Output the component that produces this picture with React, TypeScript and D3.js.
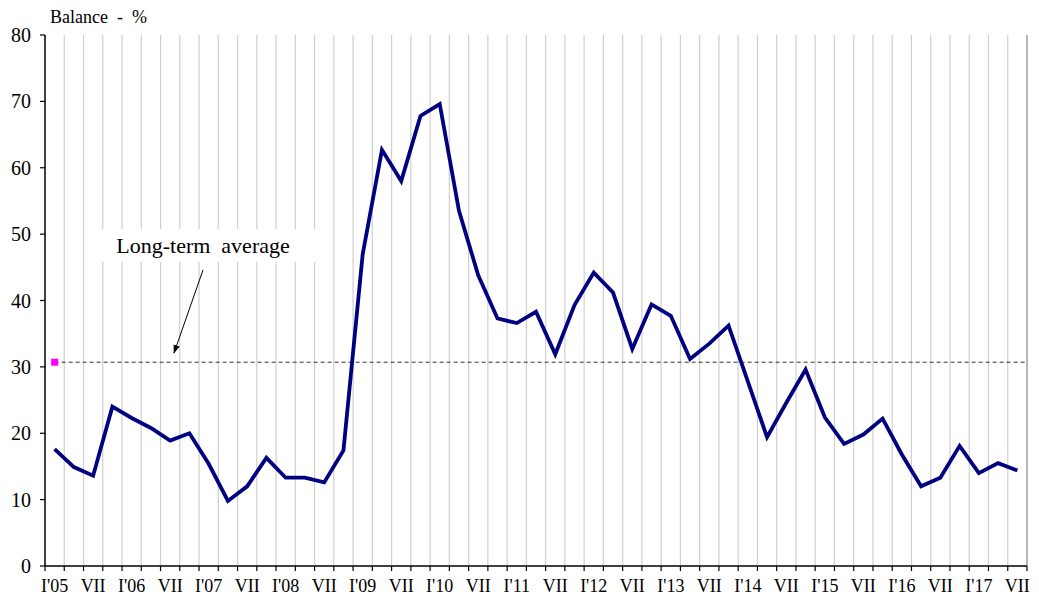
import React from "react";
import * as d3 from "d3";

const years = ["05", "06", "07", "08", "09", "10", "11", "12", "13", "14", "15", "16", "17"];
const quarters = ["I", "IV", "VII", "X"];
const categories: string[] = years.flatMap((y) => quarters.map((q) => `${q}'${y}`)).slice(0, 51);

const balance = [
  17.6, 14.9, 13.6, 24.0,
  22.3, 20.8, 18.9, 20.0,
  15.4, 9.8, 12.0, 16.3,
  13.3, 13.3, 12.6, 17.4,
  47.0, 62.7, 58.0, 67.8,
  69.6, 53.5, 43.8, 37.3,
  36.6, 38.3, 31.9, 39.3,
  44.2, 41.2, 32.7, 39.4,
  37.7, 31.2, 33.5, 36.2,
  27.8, 19.4, 24.6, 29.6,
  22.4, 18.4, 19.8, 22.2,
  16.8, 12.0, 13.3, 18.1,
  14.0, 15.5, 14.4,
];

const longTermAverage = 30.7;

const tickLabels = [
  "I'05", "VII", "I'06", "VII", "I'07", "VII", "I'08", "VII", "I'09", "VII",
  "I'10", "VII", "I'11", "VII", "I'12", "VII", "I'13", "VII", "I'14", "VII",
  "I'15", "VII", "I'16", "VII", "I'17", "VII",
];

const yTicks = [0, 10, 20, 30, 40, 50, 60, 70, 80];

export default function App() {
  const W = 1039;
  const H = 596;
  const left = 45;
  const right = 1027;
  const top = 35;
  const bottom = 566;
  const font = "'Liberation Serif', 'Times New Roman', serif";

  const x = d3.scaleBand<string>().domain(categories).range([left, right]).padding(0);
  const bw = x.bandwidth();
  const cx = (i: number) => (x(categories[i]) as number) + bw / 2;
  const y = d3.scaleLinear().domain([0, 80]).range([bottom, top]);

  const line = d3
    .line<number>()
    .x((_, i) => cx(i))
    .y((d) => y(d));

  const boundaries = d3.range(categories.length + 1).map((i) => left + i * bw);
  const avgY = y(longTermAverage);

  return (
    <svg width={W} height={H} style={{ position: "absolute", left: 0, top: 0, background: "#fff" }}>
      <defs>
        <marker id="arr" viewBox="0 0 10 10" refX="9" refY="5" markerWidth="9" markerHeight="9" orient="auto">
          <path d="M0,1.5 L10,5 L0,8.5 Z" fill="#000" />
        </marker>
      </defs>
      <rect x={0} y={0} width={W} height={H} fill="#fff" />
      {boundaries.slice(1).map((bx, i) => (
        <line
          key={"g" + i}
          x1={bx}
          x2={bx}
          y1={top}
          y2={bottom}
          stroke={i === boundaries.length - 2 ? "#a0a0a0" : "#cfcfcf"}
          strokeWidth={i === boundaries.length - 2 ? 1.5 : 1.2}
        />
      ))}
      <rect x={99} y={229} width={221} height={33} fill="#fff" />
      <text x={203} y={253} textAnchor="middle" fontFamily={font} fontSize={22} fill="#000" style={{ whiteSpace: "pre" }}>
        {"Long-term  average"}
      </text>
      <line x1={203} y1={270} x2={174} y2={353} stroke="#000" strokeWidth={1} markerEnd="url(#arr)" />
      <line x1={cx(0)} x2={right} y1={avgY} y2={avgY} stroke="#333" strokeWidth={1} strokeDasharray="4,3" />
      <rect x={cx(0) - 3.5} y={avgY - 3.5} width={7} height={7} fill="#ff00ff" />
      <path d={line(balance) || ""} fill="none" stroke="#000080" strokeWidth={3.8} strokeLinejoin="miter" />
      <line x1={left} x2={left} y1={top} y2={bottom} stroke="#000" strokeWidth={1.5} />
      <line x1={left} x2={right} y1={bottom} y2={bottom} stroke="#000" strokeWidth={1.5} />
      {yTicks.map((t) => (
        <g key={"y" + t}>
          <line x1={left - 5} x2={left} y1={y(t)} y2={y(t)} stroke="#000" strokeWidth={1.2} />
          <text x={31} y={y(t) + 7} textAnchor="end" fontFamily={font} fontSize={20} fill="#000">
            {t}
          </text>
        </g>
      ))}
      {boundaries.map((bx, i) => (
        <line key={"xt" + i} x1={bx} x2={bx} y1={bottom} y2={bottom + 5} stroke="#000" strokeWidth={1.2} />
      ))}
      {tickLabels.map((lab, i) => (
        <text
          key={"xl" + i}
          x={cx(i * 2)}
          y={592}
          textAnchor="middle"
          fontFamily={font}
          fontSize={18}
          fill="#000"
        >
          {lab}
        </text>
      ))}
      <text x={50} y={23} fontFamily={font} fontSize={18} fill="#000" style={{ whiteSpace: "pre" }}>
        {"Balance  -  %"}
      </text>
    </svg>
  );
}
